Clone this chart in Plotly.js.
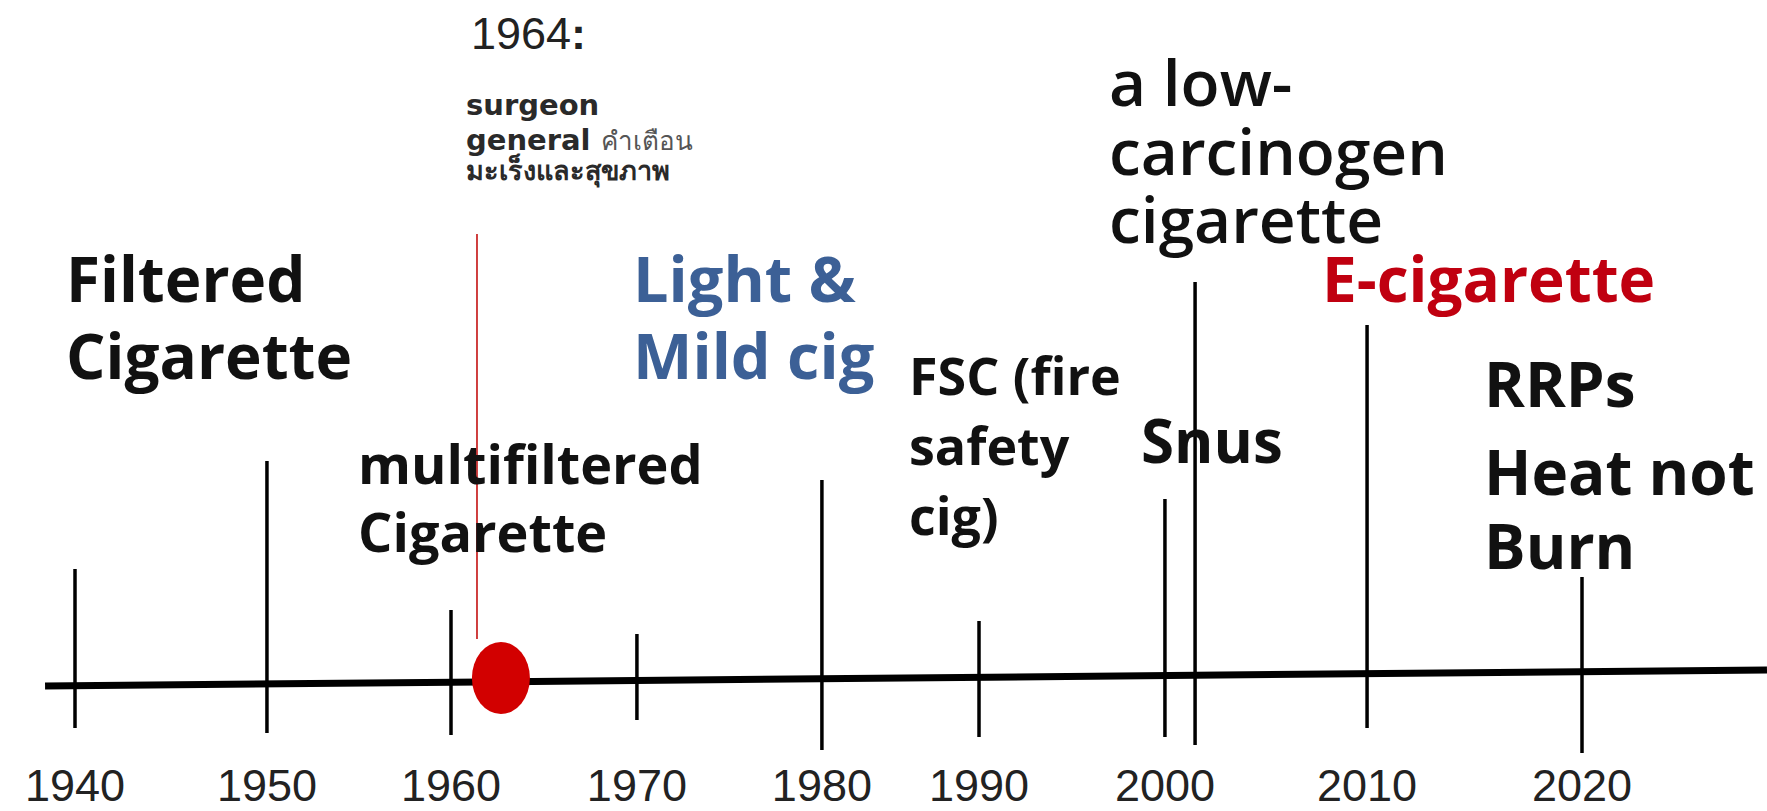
<!DOCTYPE html>
<html><head><meta charset="utf-8">
<script src="https://cdn.plot.ly/plotly-3.0.1.min.js"></script>
<style>html,body{margin:0;padding:0;background:#fff;}#chart{width:1767px;height:811px;}</style>
</head><body><div id="chart"></div>
<script>
// ---- data ----
// decade labels and where each decade mark sits along the drawn timeline (axis years)
const decadeLabels = ['1940','1950','1960','1970','1980','1990','2000','2010','2020'];
const decadeAt     = [1940.0, 1950.19, 1959.96, 1969.83, 1979.65, 1987.99, 1997.86, 2008.59, 2020.0];
// vertical event marks: position and how far they reach (axis units, 1 unit = 1 px)
const markAt     = [1940.0, 1950.19, 1959.96, 1969.83, 1979.65, 1987.99, 1997.86, 1999.46, 2008.59, 2020.0];
const markTop    = [196, 304, 155, 131, 285, 144, 266, 483, 440, 188];
const markBottom = [37, 32, 30, 45, 15, 28, 28, 20, 37, 12];
// the timeline itself (start / end)
const timelineX = [1938.41, 2029.82];
const timelineY = [79, 95];
// 1964 Surgeon General event: thin red pointer and red dot
const sgLineAt = [1961.34, 1961.34];
const sgLineY  = [126, 531];
const sgDotAt  = 1962.61;
const sgDotY   = 87;
// label texts
const labelTexts = [
  ['1964<b>:</b>'],
  ['surgeon', 'general <span style="font-weight:normal;color:#555;font-size:26px">คำเตือน</span>', 'มะเร็งและสุขภาพ'],
  ['Filtered', 'Cigarette'],
  ['Light &', 'Mild cig'],
  ['multifiltered', 'Cigarette'],
  ['FSC (fire', 'safety', 'cig)'],
  ['Snus'],
  ['a low-', 'carcinogen', 'cigarette'],
  ['E-cigarette'],
  ['RRPs', 'Heat not', 'Burn']
];

// ---- layout / style ----
const PLOT_TOP = 765;      // axis value at the top edge of the picture
const PLOT_BOTTOM = 10;    // axis value at the plot's bottom edge
const labelStyle = [
  {x: 1960.97, base: [50], size: 45, color: '#222', weight: 400, family: 'Liberation Sans, Arial, sans-serif'},
  {x: 1960.70, base: [115, 150, 180], size: [29, 29, 27], color: '#2a2a2a', weight: 700, family: 'DejaVu Sans, sans-serif'},
  {x: 1939.47, base: [300, 377], size: 62, color: '#111', weight: 700, family: 'Open Sans, sans-serif'},
  {x: 1969.57, base: [300, 377], size: 63, color: '#3C6096', weight: 700, family: 'Open Sans, sans-serif'},
  {x: 1954.97, base: [482, 550], size: 54, color: '#111', weight: 700, family: 'Open Sans, sans-serif'},
  {x: 1984.22, base: [393, 463, 533], size: 52, color: '#111', weight: 700, family: 'Open Sans, sans-serif'},
  {x: 1996.54, base: [462], size: 60, color: '#111', weight: 700, family: 'Open Sans, sans-serif'},
  {x: 1994.84, base: [105, 174, 242], size: 64, color: '#111', weight: 600, family: 'Open Sans, sans-serif'},
  {x: 2006.14, base: [300], size: 62, color: '#C00010', weight: 700, family: 'Open Sans, sans-serif'},
  {x: 2014.74, base: [405, 493, 567], size: 62, color: '#111', weight: 700, family: 'Open Sans, sans-serif'}
];

const annotations = [];
labelTexts.forEach((lines, i) => {
  const st = labelStyle[i];
  lines.forEach((t, j) => {
    const fs = Array.isArray(st.size) ? st.size[j] : st.size;
    annotations.push({
      text: t, x: st.x, xref: 'x', xanchor: 'left',
      y: PLOT_TOP - (st.base[j] - 0.36 * fs), yref: 'y', yanchor: 'middle',
      showarrow: false, borderpad: 0,
      font: {family: st.family, size: fs, color: st.color, weight: st.weight}
    });
  });
});

// vertical marks as one trace with gaps
const mx = [], my = [];
markAt.forEach((x, i) => { mx.push(x, x, null); my.push(markBottom[i], markTop[i], null); });

const traces = [
  {x: timelineX, y: timelineY, mode: 'lines', line: {color: '#000', width: 7}, hoverinfo: 'skip'},
  {x: mx, y: my, mode: 'lines', line: {color: '#000', width: 3.5}, connectgaps: false, hoverinfo: 'skip'},
  {x: sgLineAt, y: sgLineY, mode: 'lines', line: {color: '#C00000', width: 1.5}, hoverinfo: 'skip'}
];

const pxPerYear = (1582 - 75) / 80;
const xMin = 1940 - 75 / pxPerYear;
const xMax = xMin + 1767 / pxPerYear;
const plotH = PLOT_TOP - PLOT_BOTTOM;

const layout = {
  width: 1767, height: 811,
  margin: {l: 0, r: 0, t: 0, b: 811 - plotH, pad: 0},
  paper_bgcolor: '#fff', plot_bgcolor: '#fff',
  showlegend: false,
  xaxis: {
    range: [xMin, xMax], showgrid: false, zeroline: false, showline: false, ticks: '',
    tickmode: 'array', tickvals: decadeAt, ticktext: decadeLabels,
    tickfont: {family: 'Liberation Sans, Arial, sans-serif', size: 45, color: '#222'},
    automargin: false, fixedrange: true
  },
  yaxis: {range: [PLOT_BOTTOM, PLOT_TOP], visible: false, fixedrange: true},
  shapes: [{
    type: 'circle', xref: 'x', yref: 'y',
    xsizemode: 'pixel', xanchor: sgDotAt, x0: -29, x1: 29,
    ysizemode: 'pixel', yanchor: sgDotY, y0: -36, y1: 36,
    fillcolor: '#D20000', line: {width: 0}
  }],
  annotations: annotations
};

Plotly.newPlot('chart', traces, layout, {staticPlot: true, displayModeBar: false});
</script>
</body></html>
